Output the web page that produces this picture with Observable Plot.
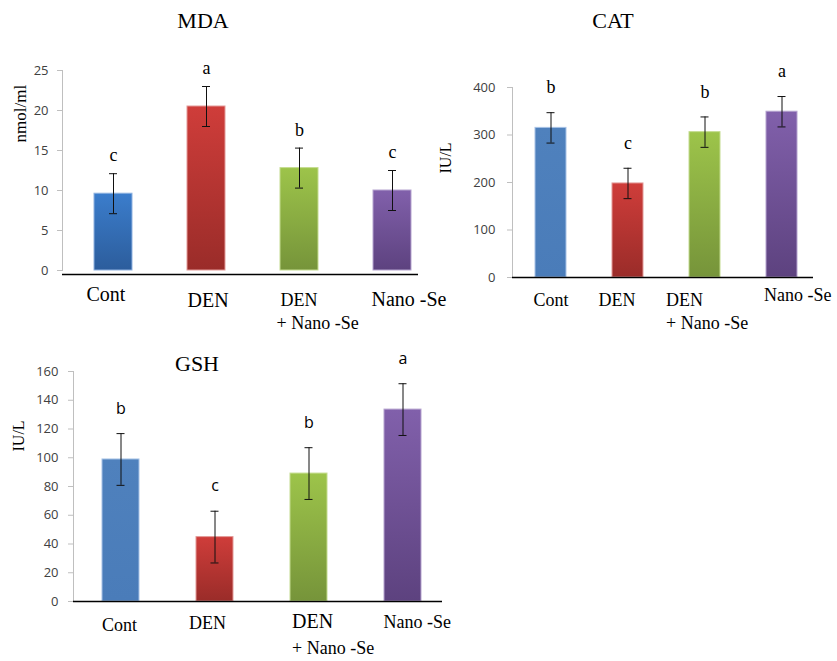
<!DOCTYPE html>
<html>
<head>
<meta charset="utf-8">
<script src="https://cdn.jsdelivr.net/npm/d3@7"></script>
<script src="https://cdn.jsdelivr.net/npm/@observablehq/plot@0.6"></script>
<style>
html,body{margin:0;padding:0;background:#fff;}
#wrap{position:relative;width:837px;height:661px;overflow:hidden;background:#fff;}
.ttl{position:absolute;font-family:"Liberation Serif","Times New Roman",serif;font-size:22px;line-height:1;color:#000;transform:translate(-50%,-50%);white-space:nowrap;}
</style>
</head>
<body>
<svg width="0" height="0" style="position:absolute">
<defs>
<linearGradient id="gBlueDark" x1="0" y1="0" x2="0" y2="1"><stop offset="0" stop-color="#3b7dcc"/><stop offset="1" stop-color="#2c5d9c"/></linearGradient>
<linearGradient id="gBlue" x1="0" y1="0" x2="0" y2="1"><stop offset="0" stop-color="#4f81bd"/><stop offset="1" stop-color="#4a7cb9"/></linearGradient>
<linearGradient id="gRed" x1="0" y1="0" x2="0" y2="1"><stop offset="0" stop-color="#cf3d3a"/><stop offset="1" stop-color="#9a2c29"/></linearGradient>
<linearGradient id="gGreen" x1="0" y1="0" x2="0" y2="1"><stop offset="0" stop-color="#9dc44a"/><stop offset="1" stop-color="#76943a"/></linearGradient>
<linearGradient id="gPurple" x1="0" y1="0" x2="0" y2="1"><stop offset="0" stop-color="#8160ab"/><stop offset="1" stop-color="#5d427f"/></linearGradient>
</defs>
</svg>
<div id="wrap"></div>
<script>
// ---- data ----
const groups = ["Cont", "DEN", "DEN + Nano -Se", "Nano -Se"];
const xLabelLines = [["Cont"], ["DEN"], ["DEN", "+ Nano -Se"], ["Nano -Se"]];

const mdaMean = [9.6, 20.5, 12.8, 10.0];
const mdaSD = [2.5, 2.5, 2.5, 2.5];
const mdaLetters = ["c", "a", "b", "c"];
const mdaTicks = [0, 5, 10, 15, 20, 25];

const catMean = [315, 198, 306, 349];
const catSD = [32, 32, 32, 32];
const catLetters = ["b", "c", "b", "a"];
const catTicks = [0, 100, 200, 300, 400];

const gshMean = [98.8, 44.8, 89, 133.5];
const gshSD = [18, 18, 18, 18];
const gshLetters = ["b", "c", "b", "a"];
const gshTicks = [0, 20, 40, 60, 80, 100, 120, 140, 160];

// ---- drawing ----
const SERIF = "'Liberation Serif','Times New Roman',serif";
const SANS = "'Open Sans','Liberation Sans',sans-serif";
const wrap = document.getElementById("wrap");

function makePanel(mean, sd, letters, ticks, cfg) {
  const rows = groups.map((g, i) => ({g, mean: mean[i], sd: sd[i], letter: letters[i], fill: cfg.fills[i], stroke: cfg.strokes[i]}));
  const capInset = (cfg.bw - 8) / 2;
  const labelMarks = [];
  xLabelLines.forEach((lines, i) => lines.forEach((txt, j) => {
    const p = cfg.labelPos[i][j];
    labelMarks.push(Plot.text([groups[i]], {
      x: d => d, text: () => txt, frameAnchor: "bottom", textAnchor: "start",
      dx: p[0], dy: p[1], fontSize: p[2], fontFamily: SERIF, fill: "#000"
    }));
  }));
  const svg = Plot.plot({
    width: cfg.width, height: cfg.height,
    marginTop: cfg.mt, marginBottom: cfg.mb, marginLeft: cfg.ml, marginRight: cfg.mr,
    style: {background: "transparent", overflow: "visible"},
    x: {domain: groups, paddingInner: cfg.pi, paddingOuter: cfg.po, align: cfg.align, axis: null},
    y: {domain: [0, ticks[ticks.length - 1]], axis: null},
    color: {type: "identity"},
    marks: [
      Plot.frame({anchor: "left", stroke: "#bfbfbf"}),
      Plot.axisY(ticks, {tickSize: 5, tickPadding: cfg.tickPadding, stroke: "#bfbfbf", fill: "#404040",
        fontSize: 13, fontFamily: SANS, label: null}),
      Plot.barY(rows, {x: "g", y: "mean", fill: "fill", stroke: "stroke", strokeWidth: 1}),
      Plot.ruleY([0], {stroke: "#000", strokeWidth: 1.5, dy: cfg.baseDy}),
      Plot.ruleX(rows, {x: "g", y1: d => d.mean - d.sd, y2: d => d.mean + d.sd, stroke: "#111", strokeWidth: 1}),
      Plot.tickY(rows, {x: "g", y: d => d.mean - d.sd, stroke: "#111", insetLeft: capInset, insetRight: capInset}),
      Plot.tickY(rows, {x: "g", y: d => d.mean + d.sd, stroke: "#111", insetLeft: capInset, insetRight: capInset}),
      Plot.text(rows, {x: "g", y: d => d.mean + d.sd, text: "letter", dy: cfg.letterDy,
        fontFamily: cfg.letterFont, fontSize: cfg.letterSize, fill: "#000"}),
      Plot.text([cfg.ylabel], {text: d => d, frameAnchor: "left", rotate: -90, dx: cfg.ylDx, dy: cfg.ylDy,
        fontFamily: SERIF, fontSize: cfg.ylSize, fill: "#000"}),
      ...labelMarks
    ]
  });
  svg.style.position = "absolute";
  svg.style.left = cfg.left + "px";
  svg.style.top = cfg.top + "px";
  svg.style.maxWidth = "none";
  wrap.appendChild(svg);
  const t = document.createElement("div");
  t.className = "ttl";
  t.textContent = cfg.title;
  t.style.left = cfg.titleX + "px";
  t.style.top = cfg.titleY + "px";
  wrap.appendChild(t);
}

makePanel(mdaMean, mdaSD, mdaLetters, mdaTicks, {
  title: "MDA", titleX: 203, titleY: 21,
  left: 0, top: 0, width: 460, height: 340, mt: 70, mb: 70, ml: 62, mr: 42,
  pi: 0.5957, po: 0.1915, align: 0.8, bw: 38, tickPadding: 9, baseDy: 4,
  letterDy: -18, letterFont: SERIF, letterSize: 18,
  fills: ["url(#gBlueDark)", "url(#gRed)", "url(#gGreen)", "url(#gPurple)"],
  strokes: ["#8fb2e0", "#e39a98", "#c4dc8f", "#b5a3cf"],
  ylabel: "nmol/ml", ylDx: -42, ylDy: -28, ylSize: 17,
  labelPos: [[[-27, 30, 20]], [[-19, 36, 20]], [[-19, 35, 18], [-23, 58, 18]], [[-21, 35, 20]]]
});

makePanel(catMean, catSD, catLetters, catTicks, {
  title: "CAT", titleX: 613, titleY: 21,
  left: 420, top: 0, width: 417, height: 340, mt: 87, mb: 63, ml: 92, mr: 24,
  pi: 0.601, po: 0.238, align: 0.595, bw: 31, tickPadding: 12, baseDy: 0,
  letterDy: -25, letterFont: SERIF, letterSize: 18,
  fills: ["url(#gBlue)", "url(#gRed)", "url(#gGreen)", "url(#gPurple)"],
  strokes: ["#a7c2e6", "#e39a98", "#c4dc8f", "#b5a3cf"],
  ylabel: "IU/L", ylDx: -67, ylDy: -9, ylSize: 16,
  labelPos: [[[-17.5, 28, 18]], [[-29.5, 28, 18]], [[-39, 28, 18], [-39, 51, 18]], [[-18, 23, 18]]]
});

makePanel(gshMean, gshSD, gshLetters, gshTicks, {
  title: "GSH", titleX: 197, titleY: 364,
  left: 0, top: 340, width: 460, height: 321, mt: 31, mb: 60, ml: 73, mr: 18,
  pi: 0.607, po: 0.263, align: 0.577, bw: 37, tickPadding: 10, baseDy: 0,
  letterDy: -25, letterFont: SANS, letterSize: 16,
  fills: ["url(#gBlue)", "url(#gRed)", "url(#gGreen)", "url(#gPurple)"],
  strokes: ["#a7c2e6", "#e39a98", "#c4dc8f", "#b5a3cf"],
  ylabel: "IU/L", ylDx: -55, ylDy: -35, ylSize: 16,
  labelPos: [[[-19, 29, 18]], [[-26, 27, 18]], [[-17, 26, 20], [-17, 52, 18]], [[-19.5, 26, 18]]]
});
</script>
</body>
</html>
